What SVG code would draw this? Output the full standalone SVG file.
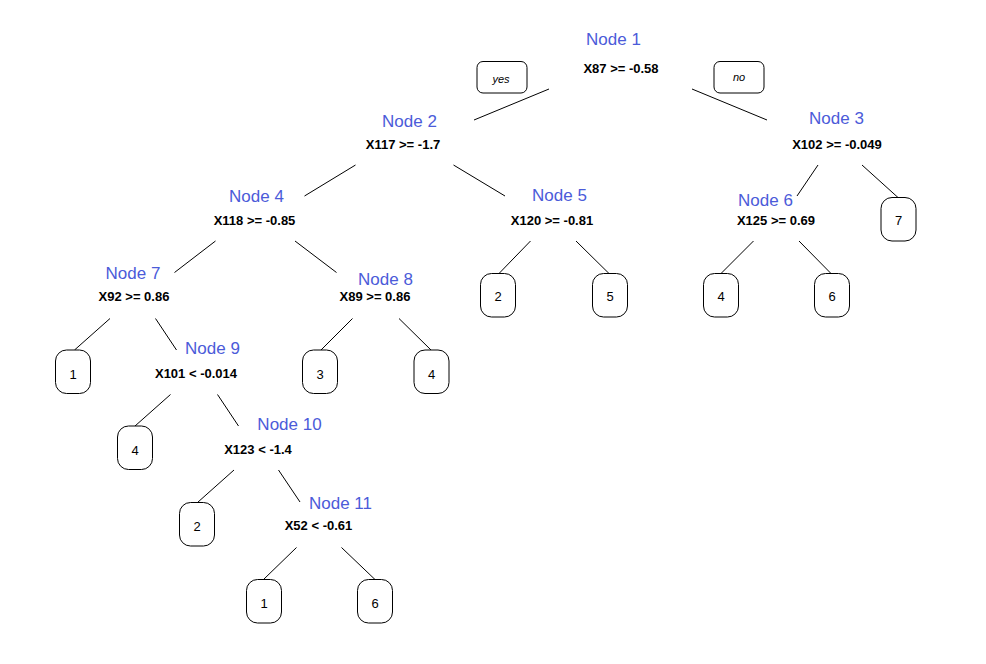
<svg xmlns="http://www.w3.org/2000/svg" width="986" height="664" viewBox="0 0 986 664">
<style>
.bg{fill:#ffffff}
.name{font-family:"Liberation Sans",Arial,sans-serif;font-size:17px;fill:#4b5bd9;text-anchor:middle}
.rule{font-family:"Liberation Sans",Arial,sans-serif;font-size:13px;font-weight:bold;fill:#000;text-anchor:middle}
.leaf rect{fill:#fff;stroke:#000;stroke-width:1}
.leaf text{font-family:"Liberation Sans",Arial,sans-serif;font-size:13px;fill:#000;text-anchor:middle}
.tag rect{fill:#fff;stroke:#000;stroke-width:1}
.tag text{font-family:"Liberation Sans",Arial,sans-serif;font-size:11px;font-style:italic;fill:#000;text-anchor:middle}
#connectors line{stroke:#000;stroke-width:1}
</style>
<rect class="bg" x="0" y="0" width="986" height="664"/>
<g id="connectors">
<line x1="549" y1="89" x2="474" y2="120"/>
<line x1="692" y1="89" x2="767" y2="120"/>
<line x1="355.5" y1="165" x2="304.5" y2="196"/>
<line x1="453.5" y1="165" x2="505" y2="196"/>
<line x1="818" y1="165" x2="797" y2="196"/>
<line x1="862" y1="165" x2="898" y2="197.5"/>
<line x1="215.5" y1="241" x2="174.5" y2="272.5"/>
<line x1="295" y1="241" x2="336.5" y2="272.5"/>
<line x1="530.5" y1="241" x2="499" y2="273.5"/>
<line x1="576" y1="241" x2="609" y2="273.5"/>
<line x1="753.5" y1="241" x2="721" y2="273.5"/>
<line x1="799" y1="241" x2="831" y2="273.5"/>
<line x1="110" y1="318.5" x2="74.5" y2="350"/>
<line x1="155.5" y1="318.5" x2="176.5" y2="350"/>
<line x1="352.5" y1="318.5" x2="321" y2="350"/>
<line x1="399" y1="318.5" x2="431" y2="350"/>
<line x1="170.5" y1="394.5" x2="135" y2="426"/>
<line x1="217.5" y1="394.5" x2="238.5" y2="426"/>
<line x1="234" y1="470" x2="197.5" y2="502.5"/>
<line x1="278.5" y1="470" x2="300" y2="502"/>
<line x1="296.5" y1="547.5" x2="263.5" y2="579.5"/>
<line x1="341.5" y1="547.5" x2="375" y2="579.5"/>
</g>
<g id="tag-yes" class="tag"><rect x="477" y="61.5" width="50" height="31.5" rx="6"/><text x="501" y="83">yes</text></g>
<g id="tag-no" class="tag"><rect x="714" y="61.5" width="50" height="31.5" rx="6"/><text x="739" y="81">no</text></g>
<g id="node1"><text class="name" x="613.5" y="45">Node 1</text><text class="rule" x="621" y="72.5">X87 &gt;= -0.58</text></g>
<g id="node2"><text class="name" x="409.5" y="127">Node 2</text><text class="rule" x="403" y="149">X117 &gt;= -1.7</text></g>
<g id="node3"><text class="name" x="836.5" y="123.5">Node 3</text><text class="rule" x="837" y="149">X102 &gt;= -0.049</text></g>
<g id="node4"><text class="name" x="256.5" y="201.5">Node 4</text><text class="rule" x="254.5" y="225">X118 &gt;= -0.85</text></g>
<g id="node5"><text class="name" x="559.5" y="201">Node 5</text><text class="rule" x="552" y="225">X120 &gt;= -0.81</text></g>
<g id="node6"><text class="name" x="765.5" y="205.5">Node 6</text><text class="rule" x="776" y="225">X125 &gt;= 0.69</text></g>
<g id="node7"><text class="name" x="133" y="278.5">Node 7</text><text class="rule" x="134" y="300.5">X92 &gt;= 0.86</text></g>
<g id="node8"><text class="name" x="385.5" y="285">Node 8</text><text class="rule" x="375" y="300.5">X89 &gt;= 0.86</text></g>
<g id="node9"><text class="name" x="212.5" y="354">Node 9</text><text class="rule" x="196" y="377.5">X101 &lt; -0.014</text></g>
<g id="node10"><text class="name" x="289.5" y="430">Node 10</text><text class="rule" x="258" y="454">X123 &lt; -1.4</text></g>
<g id="node11"><text class="name" x="340.5" y="508.5">Node 11</text><text class="rule" x="318.5" y="529.5">X52 &lt; -0.61</text></g>
<g id="leaf7a" class="leaf"><rect x="55.5" y="350" width="35" height="43.5" rx="11" ry="11"/><text x="73" y="378.5">1</text></g>
<g id="leaf9a" class="leaf"><rect x="117.5" y="426" width="35" height="43.5" rx="11" ry="11"/><text x="135" y="454.5">4</text></g>
<g id="leaf10a" class="leaf"><rect x="179.5" y="502.5" width="35" height="43.5" rx="11" ry="11"/><text x="197" y="531">2</text></g>
<g id="leaf11a" class="leaf"><rect x="246.5" y="579.5" width="35" height="43.5" rx="11" ry="11"/><text x="264" y="608">1</text></g>
<g id="leaf11b" class="leaf"><rect x="357.5" y="579.5" width="35" height="43.5" rx="11" ry="11"/><text x="375" y="608">6</text></g>
<g id="leaf8a" class="leaf"><rect x="302.5" y="350" width="35" height="43.5" rx="11" ry="11"/><text x="320" y="378.5">3</text></g>
<g id="leaf8b" class="leaf"><rect x="414" y="350" width="35" height="43.5" rx="11" ry="11"/><text x="431.5" y="378.5">4</text></g>
<g id="leaf5a" class="leaf"><rect x="480.5" y="273.5" width="35" height="43.5" rx="11" ry="11"/><text x="498" y="301">2</text></g>
<g id="leaf5b" class="leaf"><rect x="592.5" y="273.5" width="35" height="43.5" rx="11" ry="11"/><text x="610" y="301">5</text></g>
<g id="leaf6a" class="leaf"><rect x="703.5" y="273.5" width="35" height="43.5" rx="11" ry="11"/><text x="721" y="301">4</text></g>
<g id="leaf6b" class="leaf"><rect x="814.5" y="273.5" width="35" height="43.5" rx="11" ry="11"/><text x="832" y="301">6</text></g>
<g id="leaf3b" class="leaf"><rect x="881" y="197.5" width="35" height="43.5" rx="11" ry="11"/><text x="898.5" y="225">7</text></g>
</svg>
